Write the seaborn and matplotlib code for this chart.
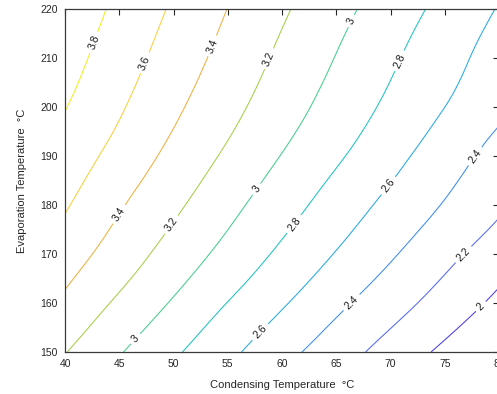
import numpy as np
import matplotlib
matplotlib.use("Agg")
import matplotlib.pyplot as plt
import matplotlib.tri as mtri
import seaborn as sns

# Grid (condensing x evaporation temperature)
cond_temp = [40, 45, 50, 55, 60, 65, 70, 75, 80]
evap_temp = [150, 160, 170, 180, 190, 200, 210, 220]

# values at each grid node, one row per evaporation temperature
val_150 = [3.208, 3.015, 2.830, 2.647, 2.465, 2.292, 2.123, 1.959, 1.800]
val_160 = [3.361, 3.167, 2.981, 2.796, 2.621, 2.446, 2.281, 2.118, 1.956]
val_170 = [3.496, 3.306, 3.120, 2.939, 2.762, 2.590, 2.423, 2.257, 2.095]
val_180 = [3.620, 3.420, 3.239, 3.058, 2.883, 2.713, 2.548, 2.387, 2.231]
val_190 = [3.717, 3.530, 3.346, 3.168, 2.993, 2.827, 2.662, 2.493, 2.327]
val_200 = [3.807, 3.622, 3.437, 3.260, 3.088, 2.921, 2.759, 2.600, 2.444]
val_210 = [3.879, 3.693, 3.511, 3.333, 3.160, 2.993, 2.830, 2.672, 2.517]
val_220 = [3.938, 3.756, 3.575, 3.397, 3.227, 3.062, 2.902, 2.744, 2.588]

levels = [2.0, 2.2, 2.4, 2.6, 2.8, 3.0, 3.2, 3.4, 3.6, 3.8]

# parula-like line colours, one per level
line_colors = ["#4a3de6", "#5468f2", "#3b8cf0", "#26a9e6", "#1fc2c4",
               "#45cf8c", "#a6cf48", "#eeb13e", "#fbcf3c", "#f3ee22"]

# where the inline labels sit
label_spots = [(42.6, 213.3), (47.2, 209.2), (53.4, 212.7), (58.7, 210.0),
               (66.2, 217.8), (70.7, 209.6), (44.8, 178.4), (49.5, 176.5),
               (57.5, 183.5), (60.9, 176.5), (69.5, 184.5), (77.9, 189.8),
               (76.6, 170.2), (78.2, 159.6), (46.3, 153.1), (57.8, 154.5),
               (66.2, 160.6)]

sns.set_style("white")
plt.rcParams["font.family"] = ["Liberation Sans", "DejaVu Sans"]

X, Y = np.meshgrid(cond_temp, evap_temp)
Z = np.array([val_150, val_160, val_170, val_180,
              val_190, val_200, val_210, val_220])

# smooth the coarse grid with matplotlib's own cubic refiner
tri = mtri.Triangulation(X.ravel(), Y.ravel())
interp = mtri.CubicTriInterpolator(tri, Z.ravel(), kind="min_E")
tri_f, z_f = mtri.UniformTriRefiner(tri).refine_field(Z.ravel(), triinterpolator=interp, subdiv=3)

fig = plt.figure(figsize=(4.97, 3.94), dpi=100)
ax = fig.add_axes([65 / 497, 1 - 352 / 394, 434 / 497, (352 - 9.3) / 394])

cs = ax.tricontour(tri_f, z_f, levels=levels, colors=line_colors, linewidths=0.75)
ax.clabel(cs, fmt="%g", fontsize=7.5, colors="#1a1a1a", inline=True,
          inline_spacing=4, manual=label_spots)

ax.set_xlim(40, 80)
ax.set_ylim(150, 220)
ax.set_xticks(range(40, 81, 5))
ax.set_yticks(range(150, 221, 10))
ax.tick_params(direction="in", length=4, width=0.8, colors="#262626",
               labelsize=7.5, top=True, right=True, pad=5)
for sp in ax.spines.values():
    sp.set_color("#3a3a3a")
    sp.set_linewidth(0.9)

ax.set_xlabel("Condensing Temperature  \u00b0C", fontsize=8, color="#262626", labelpad=8)
ax.set_ylabel("Evaporation Temperature  \u00b0C", fontsize=8, color="#262626", labelpad=10)

fig.savefig("out.png", dpi=100)
